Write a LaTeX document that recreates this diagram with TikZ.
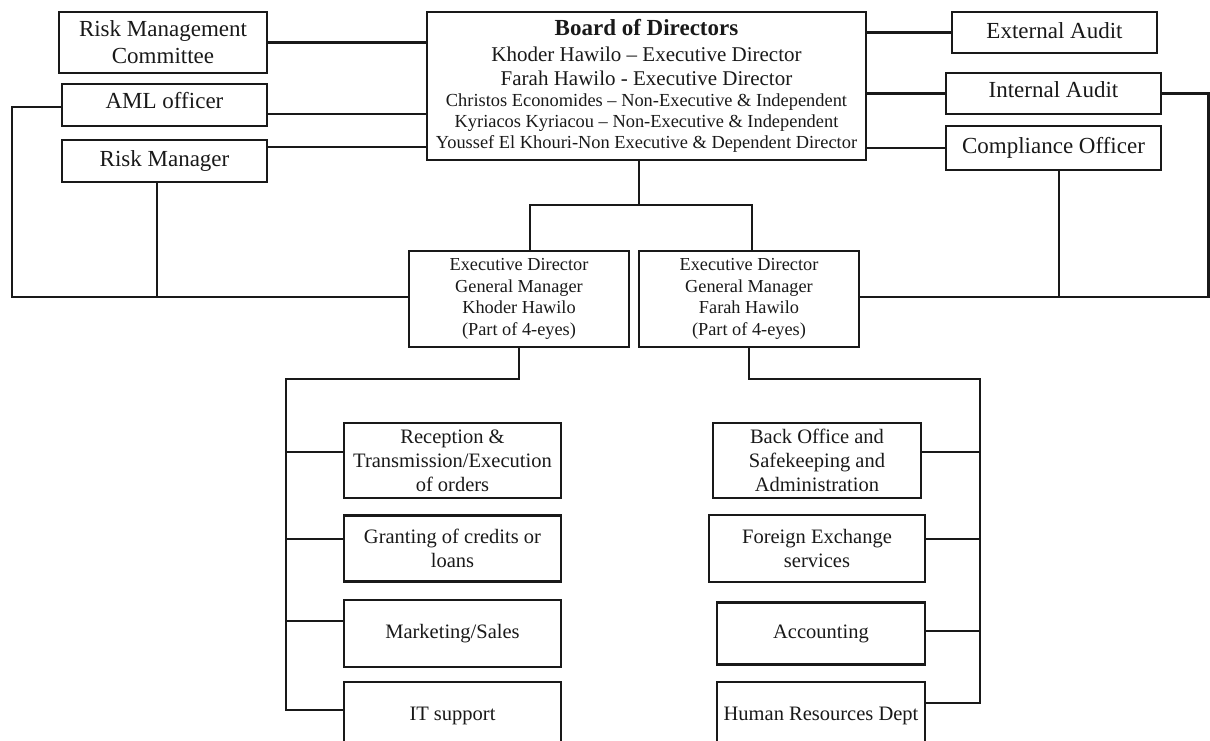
\documentclass[tikz,border=0pt]{standalone}
\usepackage{fontspec}
\setmainfont{Liberation Serif}
\usepackage{tikz}
\usepackage{xcolor}

\begin{document}
\begin{tikzpicture}[x=1pt, y=-1pt, node distance=85pt, line width=2.4pt, color=black!90,
	box/.style={draw, rectangle, align=center, inner sep=0pt},
	side/.style={box, font=\fontsize{23}{27}\selectfont, minimum height=42pt},
	head/.style={box, font=\fontsize{18.3}{21.6}\selectfont, minimum width=220pt, minimum height=96pt},
	unit/.style={box, font=\fontsize{20.5}{24}\selectfont, minimum width=208pt, minimum height=67pt}]
	\useasboundingbox (0,0) rectangle (1210,740);
	\clip (0,0) rectangle (1210,740);

	\node[box, minimum width=439pt, minimum height=148pt, font=\fontsize{18.4}{21}\selectfont](board) at (646.5,86) {{\fontsize{23}{27}\selectfont\bfseries Board of Directors}\\[5pt]{\fontsize{21}{24}\selectfont Khoder Hawilo -- Executive Director}\\[3pt]{\fontsize{21}{24}\selectfont Farah Hawilo - Executive Director}\\Christos Economides -- Non-Executive \& Independent\\Kyriacos Kyriacou -- Non-Executive \& Independent\\Youssef El Khouri-Non Executive \& Dependent Director};

	\node[side, minimum width=208pt, minimum height=61pt](rmc) at (163,42.5) {Risk Management\\Committee};
	\node[side, minimum width=205pt, text depth=9pt](aml) at (164.5,105) {AML officer};
	\node[side, minimum width=205pt](rm) at (164.5,161) {Risk Manager};
	\node[side, minimum width=205pt, minimum height=41pt, text depth=4pt](ext) at (1054.5,32.5) {External Audit};
	\node[side, minimum width=215pt, minimum height=41pt, text depth=8pt](int) at (1053.5,93.5) {Internal Audit};
	\node[side, minimum width=215pt, minimum height=44pt](comp) at (1053.5,148) {Compliance Officer};

	\node[head](exec1) at (519,299) {Executive Director\\General Manager\\Khoder Hawilo\\(Part of 4-eyes)};
	\node[head, node distance=230pt, right of=exec1](exec2) {Executive Director\\General Manager\\Farah Hawilo\\(Part of 4-eyes)};

	\node[unit, minimum width=217pt, minimum height=75pt](rec) at (452.5,460.5) {Reception \&\\Transmission/Execution\\of orders};
	\node[unit, minimum width=217pt, minimum height=66pt, below of=rec, yshift=-3pt](grant) {Granting of credits or\\loans};
	\node[unit, minimum width=217pt, below of=grant](mkt) {Marketing/Sales};
	\node[unit, minimum width=217pt, below of=mkt, yshift=3pt](it) {IT support};

	\node[unit, minimum height=75pt](back) at (817,460.5) {Back Office and\\Safekeeping and\\Administration};
	\node[unit, minimum width=216pt, below of=back, yshift=-3pt](fx) {Foreign Exchange\\services};
	\node[unit, minimum height=62pt, below of=fx, xshift=4pt](acc) {Accounting};
	\node[unit, below of=acc, yshift=3pt](hr) {Human Resources Dept};

	\coordinate (split) at (639,205);
	\coordinate (lcorner) at (12,297);
	\coordinate (rcorner) at (1208.5,297);
	\coordinate (lbus) at (286,379);
	\coordinate (rbus) at (980,379);

	\draw (rmc.east) -- (rmc.east -| board.west);
	\draw ([yshift=-9pt]aml.east) -- ([yshift=-9pt]aml.east -| board.west);
	\draw ([yshift=14pt]rm.east) -- ([yshift=14pt]rm.east -| board.west);
	\draw (ext.west -| board.east) -- (ext.west);
	\draw (int.west -| board.east) -- (int.west);
	\draw (comp.west -| board.east) -- (comp.west);

	\draw (split |- board.south) -- (split);
	\draw ([xshift=11pt]exec1.north) |- (split) -| ([xshift=3pt]exec2.north);

	\draw ([yshift=-2pt]aml.west) -| (lcorner) -- (lcorner -| exec1.west);
	\draw ([xshift=-7.5pt]rm.south) -- ([xshift=-7.5pt]rm.south |- lcorner);
	\draw (int.east) -| (rcorner) -- (rcorner -| exec2.east);
	\draw ([xshift=5.5pt]comp.south) -- ([xshift=5.5pt]comp.south |- rcorner);

	\draw (exec1.south) |- (lbus) |- ([yshift=5.5pt]it.west);
	\draw ([yshift=8.5pt]rec.west) -- ([yshift=8.5pt]rec.west -| lbus);
	\draw ([yshift=9.5pt]grant.west) -- ([yshift=9.5pt]grant.west -| lbus);
	\draw ([yshift=12.5pt]mkt.west) -- ([yshift=12.5pt]mkt.west -| lbus);

	\draw (exec2.south) |- (rbus) |- ([yshift=12.5pt]hr.east);
	\draw ([yshift=8.5pt]back.east) -- ([yshift=8.5pt]back.east -| rbus);
	\draw ([yshift=9.5pt]fx.east) -- ([yshift=9.5pt]fx.east -| rbus);
	\draw ([yshift=2.5pt]acc.east) -- ([yshift=2.5pt]acc.east -| rbus);
\end{tikzpicture}
\end{document}
